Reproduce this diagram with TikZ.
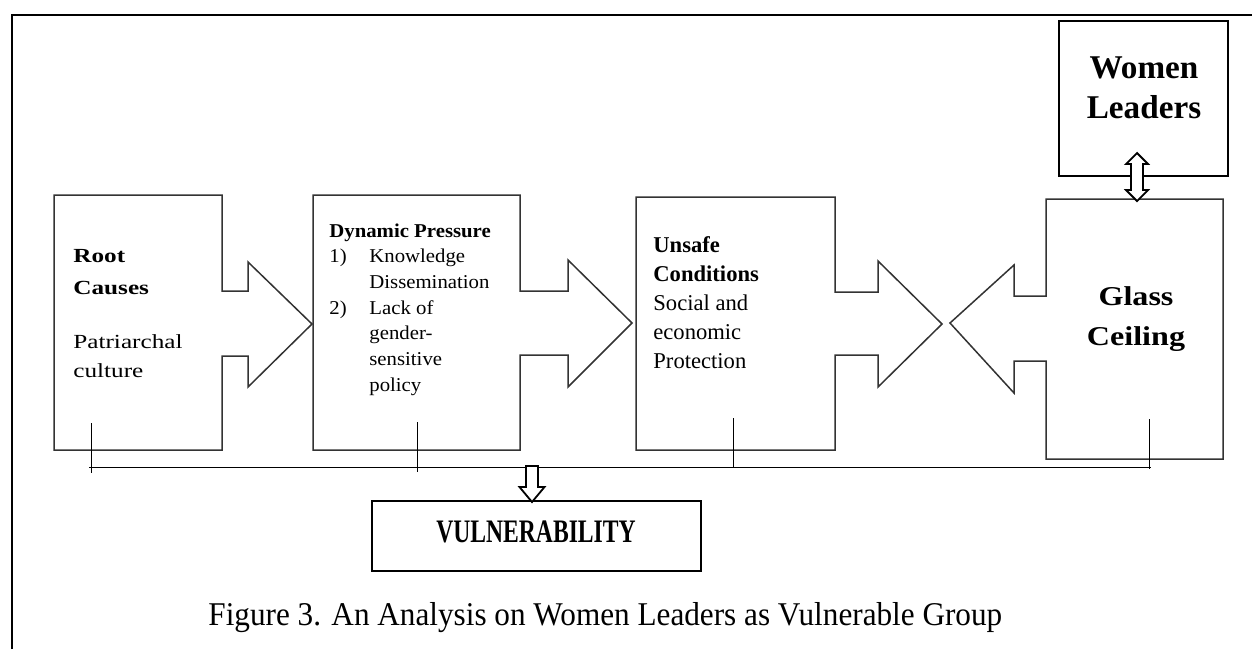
\documentclass[tikz,border=0pt]{standalone}
\usepackage{fontspec}
\setmainfont{Liberation Serif}
\newfontfamily\rootfont[FakeStretch=1.26]{Liberation Serif}
\newfontfamily\presfont[FakeStretch=1.06]{Liberation Serif}
\newfontfamily\glassfont[FakeStretch=1.18]{Liberation Serif}
\newfontfamily\vulnfont[FakeStretch=0.72]{Liberation Serif}
\newfontfamily\capfont[FakeStretch=0.94]{Liberation Serif}

\tikzset{
  outline/.style={draw=black!80, line width=0.75pt},
  thickbox/.style={draw, line width=1pt},
  tickline/.style={draw, line width=0.5pt},
  txt/.style={inner sep=0pt, align=left},
  hollow/.style={draw, fill=white, line width=0.9pt}
}

\begin{document}
\begin{tikzpicture}[x=0.5pt, y=-0.5pt]
  \useasboundingbox (0,0) rectangle (1252,649);

  % Frame
  \draw[line width=1.2pt] (12,649) -- (12,15) -- (1252,15);

  % Root causes block arrow
  \draw[outline] (54,195) -- (222,195) -- (222,291) -- (248,291) -- (248,262) -- (312,324)
    -- (248,387) -- (248,356) -- (222,356) -- (222,450) -- (54,450) -- cycle;
  \node[txt, anchor=north west, font={\rootfont\fontsize{10}{16}\selectfont\bfseries}] (roottitle) at (73,249) {Root\\Causes};
  \node[txt, anchor=north west, font={\rootfont\fontsize{10}{14.5}\selectfont}] (rootbody) at (73,334) {Patriarchal\\culture};

  % Dynamic pressure block arrow
  \draw[outline] (313,195) -- (520,195) -- (520,291) -- (568,291) -- (568,260) -- (632,323)
    -- (568,387) -- (568,355) -- (520,355) -- (520,450) -- (313,450) -- cycle;
  \node[txt, anchor=north west, font={\presfont\fontsize{9.8}{12.85}\selectfont}] (pressure) at (329,223)
    {\textbf{Dynamic Pressure}\\\makebox[20pt][l]{1)}Knowledge\\\hspace*{20pt}Dissemination\\\makebox[20pt][l]{2)}Lack of\\\hspace*{20pt}gender-\\\hspace*{20pt}sensitive\\\hspace*{20pt}policy};

  % Unsafe conditions block arrow
  \draw[outline] (636,197) -- (835,197) -- (835,292) -- (878,292) -- (878,261) -- (942,324)
    -- (878,387) -- (878,355) -- (835,355) -- (835,450) -- (636,450) -- cycle;
  \node[txt, anchor=north west, font={\fontsize{11.3}{14.5}\selectfont}] (unsafe) at (653,236)
    {\textbf{Unsafe}\\\textbf{Conditions}\\Social and\\economic\\Protection};

  % Glass ceiling block arrow (pointing left)
  \draw[outline] (1046,199) -- (1223,199) -- (1223,459) -- (1046,459) -- (1046,361) -- (1014,361)
    -- (1014,393) -- (950,323) -- (1014,265) -- (1014,296) -- (1046,296) -- cycle;
  \node[txt, align=center, anchor=north, font={\glassfont\fontsize{13.6}{20}\selectfont\bfseries}] (glass) at (1136,286) {Glass\\Ceiling};

  % Women leaders
  \node[thickbox, minimum width=84.5pt, minimum height=77.5pt] (leaders) at (1143.5,98.5) {};
  \node[txt, align=center, anchor=north, font={\fontsize{16.6}{20}\selectfont\bfseries}] (leaderstext) at (1144,56) {Women\\Leaders};
  \draw[hollow] (1137,153) -- ++(11,11) -- ++(-5,0) -- ++(0,26) -- ++(5,0) -- ++(-11,11)
    -- ++(-11,-11) -- ++(5,0) -- ++(0,-26) -- ++(-5,0) -- cycle;

  % Bracket under the blocks
  \coordinate (t1) at (91,423);
  \coordinate (t2) at (417,422);
  \coordinate (t3) at (733,418);
  \coordinate (t4) at (1149,419);
  \draw[tickline] (89,467) -- (1151,467);
  \foreach \t in {t1,t2,t3,t4}
    \draw[tickline] (\t) -- ++(0,50);

  % Vulnerability
  \node[thickbox, minimum width=164.5pt, minimum height=35pt] (vuln) at (536.5,536) {};
  \node[inner sep=0pt, anchor=base, font={\vulnfont\fontsize{16.4}{20}\selectfont\bfseries}] (vulntext) at (536,542) {VULNERABILITY};
  \draw[hollow] (526,466) -- (538,466) -- (538,487) -- (544.5,487) -- (532,502) -- (519.5,487)
    -- (526,487) -- cycle;

  % Caption
  \node[inner sep=0pt, anchor=base west, font={\capfont\fontsize{16.6}{20}\selectfont}] (caption) at (208,625)
    {Figure 3. An Analysis on Women Leaders as Vulnerable Group};
\end{tikzpicture}
\end{document}
